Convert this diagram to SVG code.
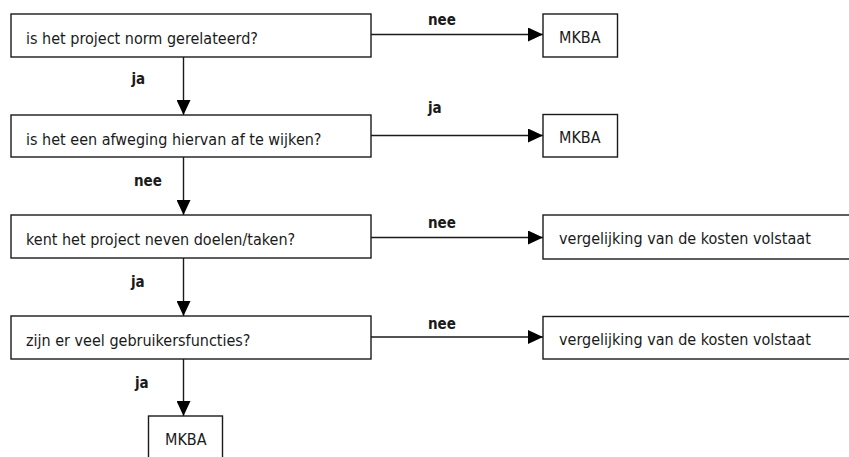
<svg xmlns="http://www.w3.org/2000/svg" width="849" height="457" viewBox="0 0 849 457">
<style>
.box{fill:#fff;stroke:#1a1a1a;stroke-width:1.4}
.t{font-family:"DejaVu Sans Condensed","DejaVu Sans",sans-serif;font-stretch:condensed;font-size:16px;fill:#1a1a1a}
.lbl{font-family:"DejaVu Sans Condensed","DejaVu Sans",sans-serif;font-stretch:condensed;font-size:15px;font-weight:bold;fill:#1a1a1a}
.c{stroke:#1a1a1a;stroke-width:1.4;fill:none;marker-end:url(#ah)}
</style>
<defs>
<marker id="ah" markerUnits="userSpaceOnUse" markerWidth="15" markerHeight="14" refX="15" refY="7" orient="auto">
<path d="M0,0 L15,7 L0,14 Z" fill="#000"/>
</marker>
</defs>
<g id="connectors">
<line class="c" x1="371" y1="34.5" x2="543" y2="34.5"/>
<line class="c" x1="371" y1="135.5" x2="543" y2="135.5"/>
<line class="c" x1="371" y1="237.5" x2="543" y2="237.5"/>
<line class="c" x1="371" y1="337" x2="543" y2="337"/>
<line class="c" x1="183.5" y1="57" x2="183.5" y2="115"/>
<line class="c" x1="183.5" y1="157" x2="183.5" y2="215"/>
<line class="c" x1="183.5" y1="258" x2="183.5" y2="316"/>
<line class="c" x1="183.5" y1="359" x2="183.5" y2="416"/>
<text class="lbl" x="428" y="25">nee</text>
<text class="lbl" x="428" y="113">ja</text>
<text class="lbl" x="428" y="228">nee</text>
<text class="lbl" x="428" y="329">nee</text>
<text class="lbl" x="131.5" y="83.5">ja</text>
<text class="lbl" x="134" y="186">nee</text>
<text class="lbl" x="131" y="287">ja</text>
<text class="lbl" x="135" y="388">ja</text>
</g>
<g id="q1"><rect class="box" x="11" y="14" width="360" height="43"/><text class="t" x="26" y="43.5">is het project norm gerelateerd?</text></g>
<g id="q2"><rect class="box" x="11" y="115" width="360" height="42"/><text class="t" x="26" y="144.5">is het een afweging hiervan af te wijken?</text></g>
<g id="q3"><rect class="box" x="11" y="215" width="360" height="43"/><text class="t" x="26" y="245">kent het project neven doelen/taken?</text></g>
<g id="q4"><rect class="box" x="11" y="316" width="360" height="43"/><text class="t" x="26" y="346">zijn er veel gebruikersfuncties?</text></g>
<g id="r1"><rect class="box" x="543" y="14" width="74.5" height="43"/><text class="t" x="559" y="42.7">MKBA</text></g>
<g id="r2"><rect class="box" x="543" y="114.5" width="74.5" height="42.5"/><text class="t" x="559" y="142.7">MKBA</text></g>
<g id="r3"><rect class="box" x="543" y="215" width="330" height="44"/><text class="t" x="559" y="243.5">vergelijking van de kosten volstaat</text></g>
<g id="r4"><rect class="box" x="543" y="316.5" width="330" height="42.5"/><text class="t" x="559" y="344.5">vergelijking van de kosten volstaat</text></g>
<g id="end"><rect class="box" x="148.5" y="416" width="74" height="60"/><text class="t" x="165" y="445">MKBA</text></g>
</svg>
